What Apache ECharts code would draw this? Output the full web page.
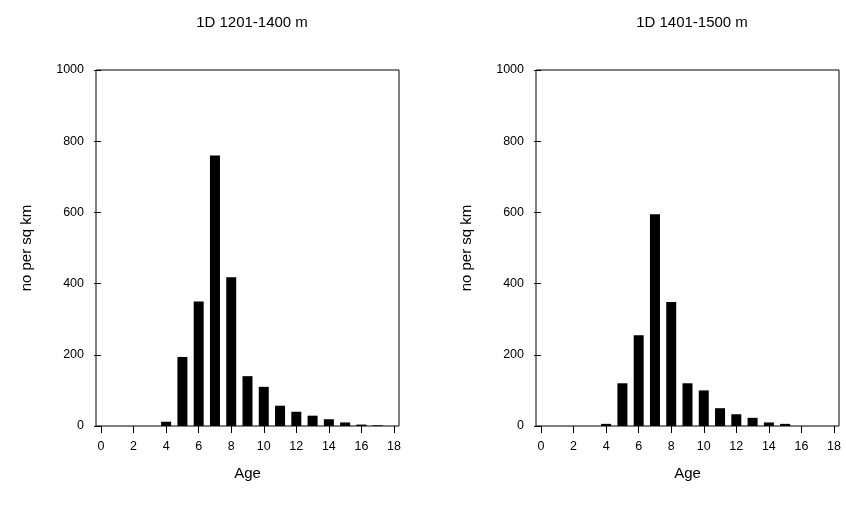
<!DOCTYPE html><html><head><meta charset="utf-8"><script src="https://cdn.jsdelivr.net/npm/echarts@6/dist/echarts.min.js"></script></head><body style="margin:0"><div id="c" style="width:846px;height:514px"></div><script>
const ages=[0,1,2,3,4,5,6,7,8,9,10,11,12,13,14,15,16,17,18];
const left=[0,0,0,0,12,194,350,760,418,140,110,57,40,29,19,10,4,2,0];
const right=[0,0,0,0,6,120,255,595,348,120,100,50,33,23,10,6,0,0,0];
const titles=['1D 1201-1400 m','1D 1401-1500 m'];
const f='Liberation Sans, Arial, sans-serif';
const grids=[{left:96,top:70,width:303,height:356},{left:536,top:70,width:303,height:356}];
const chart=echarts.init(document.getElementById('c'));
const xA=[],yA=[],ser=[],tit=[];
[left,right].forEach((d,i)=>{
 grids[i].show=true;grids[i].borderColor='#000';grids[i].borderWidth=1;
 xA.push({gridIndex:i,type:'value',min:-0.31,max:18.31,interval:2,name:'Age',nameLocation:'middle',nameGap:40,nameTextStyle:{fontFamily:f,fontSize:15,color:'#000'},
  axisLine:{show:false},axisTick:{show:true,length:7,lineStyle:{color:'#000'},customValues:[0,2,4,6,8,10,12,14,16,18]},
  axisLabel:{fontFamily:f,fontSize:12.5,color:'#000',margin:14,customValues:[0,2,4,6,8,10,12,14,16,18]},splitLine:{show:false}});
 yA.push({gridIndex:i,type:'value',min:0,max:1000,interval:200,name:'no per sq km',nameLocation:'middle',nameGap:62,nameTextStyle:{fontFamily:f,fontSize:15,color:'#000'},
  axisLine:{show:false},axisTick:{show:true,length:7,lineStyle:{color:'#000'}},axisLabel:{fontFamily:f,fontSize:12.5,color:'#000',margin:12,formatter:v=>String(v)},splitLine:{show:false}});
 ser.push({type:'bar',xAxisIndex:i,yAxisIndex:i,data:ages.map((a,k)=>[a,d[k]]),barWidth:10,itemStyle:{color:'#000'},silent:true});
 tit.push({text:titles[i],left:grids[i].left+151,top:10,textAlign:'center',textStyle:{fontFamily:f,fontSize:15,fontWeight:'normal',color:'#000'}});
});
chart.setOption({animation:false,title:tit,grid:grids,xAxis:xA,yAxis:yA,series:ser});
</script></body></html>
